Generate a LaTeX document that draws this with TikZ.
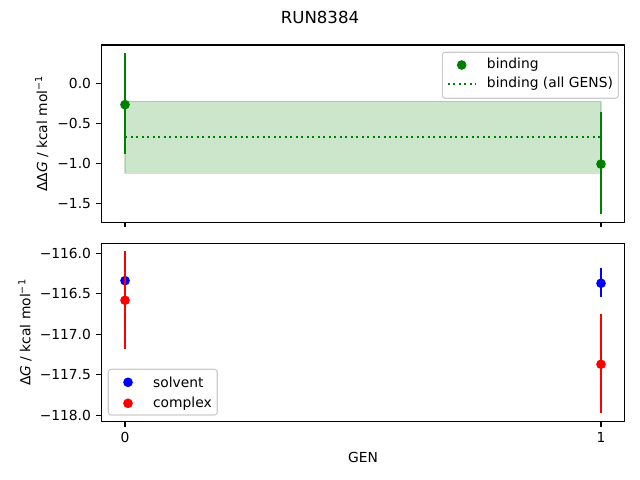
\documentclass[tikz,border=0pt]{standalone}
\usepackage{fontspec}
\setmainfont{DejaVu Sans}
\definecolor{mplgreen}{RGB}{0,128,0}
\definecolor{mplblue}{RGB}{0,0,255}
\definecolor{mplred}{RGB}{255,0,0}
\definecolor{framegray}{RGB}{204,204,204}
\tikzset{
  frameline/.style={line width=0.8pt, line cap=butt},
  errbar/.style={line width=1.5pt, line cap=butt},
  legendbox/.style={draw=framegray, line width=0.8pt, fill=white, fill opacity=0.8, rounded corners=2pt},
  ticklabel/.style={inner sep=0pt, font=\normalsize},
}
\begin{document}
\begin{tikzpicture}[x=1in,y=1in,line join=round]
	\useasboundingbox (0,0) rectangle (6.4,4.8);
	\def \xmin{-0.05};
	\def \xmax{1.05};
	\def \rdot{3.5pt};
	% upper panel: binding
	\begin{scope}[xshift=1.25in, yshift=3.967in, x=4.76in, y=0.8in]
		\def \ymin{-1.74};
		\def \ymax{0.479};
		\fill[mplgreen, fill opacity=0.2, draw=mplgreen, draw opacity=0.2, line width=1pt] (0,-0.225) rectangle (1,-1.125);
		\draw[mplgreen, line width=1.5pt, dash pattern=on 1.5pt off 2.475pt] (0,-0.67) -- (1,-0.67);
		\draw[mplgreen, errbar] (0,0.375) -- (0,-0.89) (1,-0.355) -- (1,-1.64);
		\fill[mplgreen] (0,-0.267) circle(\rdot) (1,-1.01) circle(\rdot);
		\draw[frameline] (\xmin,\ymin) rectangle (\xmax,\ymax);
		\foreach \v/\t [count=\i] in {0/0.0, -0.5/−0.5, -1/−1.0, -1.5/−1.5}
			\draw[frameline] (\xmin,\v) -- ++(-3.5pt,0) node[ticklabel, anchor=east, xshift=-3.5pt] (ytop\i) {\t};
		\foreach \u in {0,1}
			\draw[frameline] (\u,\ymin) -- ++(0,-3.5pt);
	\end{scope}
	\node[rotate=90] (ylabtop) at (0.417,3.4625) {ΔΔ\textit{G} / kcal mol\textsuperscript{−1}};
	% legend of the upper panel
	\draw[legendbox] (4.423,3.817) rectangle (6.183,4.277);
	\fill[mplgreen] (4.617,4.15) circle(\rdot);
	\node[anchor=west, inner sep=0pt] (legbind) at (4.867,4.15) {binding};
	\draw[mplgreen, line width=1.5pt, dash pattern=on 1.5pt off 2.475pt] (4.479,3.96) -- (4.757,3.96);
	\node[anchor=west, inner sep=0pt] (legall) at (4.867,3.96) {binding (all GENS)};
	% lower panel: solvent and complex, values shifted by +116
	\begin{scope}[xshift=1.25in, yshift=2.267in, x=4.76in, y=0.81in]
		\def \ymin{-2.08};
		\def \ymax{0.12};
		\draw[mplblue, errbar] (1,-0.185) -- (1,-0.54);
		\fill[mplblue] (0,-0.338) circle(\rdot) (1,-0.37) circle(\rdot);
		\draw[mplred, errbar] (0,0.03) -- (0,-1.185) (1,-0.753) -- (1,-1.975);
		\fill[mplred] (0,-0.58) circle(\rdot) (1,-1.37) circle(\rdot);
		\draw[frameline] (\xmin,\ymin) rectangle (\xmax,\ymax);
		\foreach \v/\t [count=\i] in {0/−116.0, -0.5/−116.5, -1/−117.0, -1.5/−117.5, -2/−118.0}
			\draw[frameline] (\xmin,\v) -- ++(-3.5pt,0) node[ticklabel, anchor=east, xshift=-3.5pt] (ybot\i) {\t};
		\foreach \u [count=\i] in {0,1}
			\draw[frameline] (\u,\ymin) -- ++(0,-3.5pt) node[ticklabel, anchor=north, yshift=-3.5pt] (xbot\i) {\u};
	\end{scope}
	\node[rotate=90] (ylabbot) at (0.25,1.475) {Δ\textit{G} / kcal mol\textsuperscript{−1}};
	% legend of the lower panel
	\draw[legendbox] (1.083,0.65) rectangle (2.173,1.107);
	\fill[mplblue] (1.28,0.977) circle(\rdot);
	\node[anchor=west, inner sep=0pt] (legsolv) at (1.528,0.977) {solvent};
	\fill[mplred] (1.28,0.767) circle(\rdot);
	\node[anchor=west, inner sep=0pt] (legcomp) at (1.528,0.767) {complex};
	% axis label and title
	\node (xlab) at (3.63,0.227) {GEN};
	\node[font=\large] (title) at (3.2,4.63) {RUN8384};
\end{tikzpicture}
\end{document}
